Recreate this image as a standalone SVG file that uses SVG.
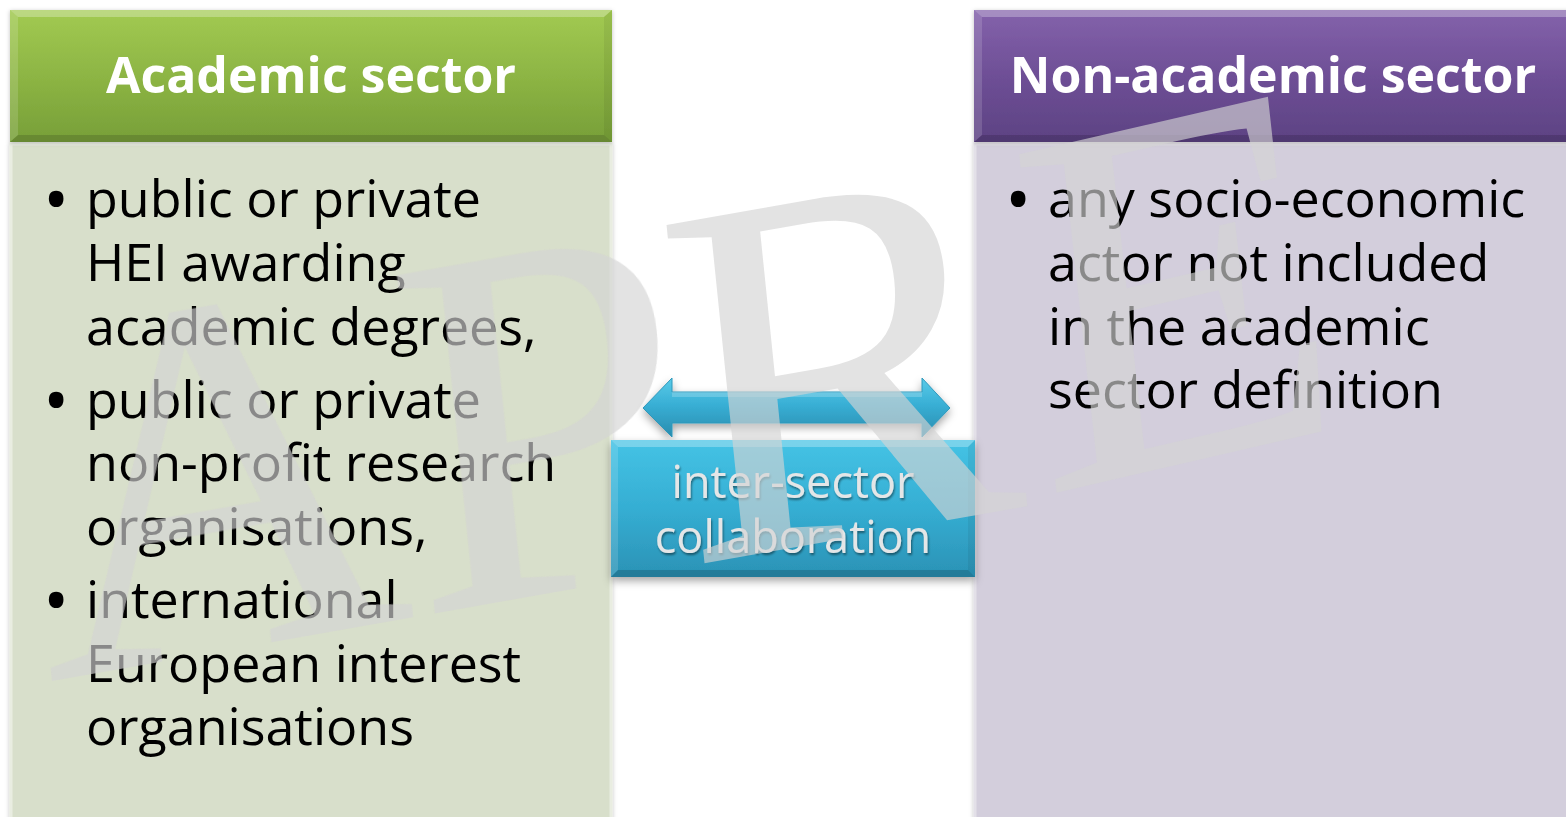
<svg xmlns="http://www.w3.org/2000/svg" width="1566" height="817" viewBox="0 0 1566 817">
<defs>
<linearGradient id="gGreen" x1="0" y1="0" x2="0" y2="1">
<stop offset="0" stop-color="#a2ca52"/><stop offset="0.5" stop-color="#8db544"/><stop offset="1" stop-color="#779f38"/>
</linearGradient>
<linearGradient id="gPurple" x1="0" y1="0" x2="0" y2="1">
<stop offset="0" stop-color="#8462ab"/><stop offset="0.5" stop-color="#6e4f96"/><stop offset="1" stop-color="#5d4283"/>
</linearGradient>
<linearGradient id="gTeal" x1="0" y1="0" x2="0" y2="1">
<stop offset="0" stop-color="#45c3e5"/><stop offset="0.5" stop-color="#35aed3"/><stop offset="1" stop-color="#2b92b5"/>
</linearGradient>
<linearGradient id="gArrow" x1="0" y1="0" x2="0" y2="1">
<stop offset="0" stop-color="#5acbe8"/><stop offset="0.45" stop-color="#38afd5"/><stop offset="1" stop-color="#2a8cae"/>
</linearGradient>
<filter id="shadow" x="-10%" y="-10%" width="120%" height="130%">
<feDropShadow dx="0" dy="4" stdDeviation="4" flood-color="#000" flood-opacity="0.35"/>
</filter>
<filter id="soft" x="-5%" y="-5%" width="110%" height="110%">
<feDropShadow dx="0" dy="1" stdDeviation="2" flood-color="#000" flood-opacity="0.25"/>
</filter>
<filter id="txtShadow" x="-5%" y="-20%" width="110%" height="140%">
<feDropShadow dx="1" dy="2" stdDeviation="1" flood-color="#000" flood-opacity="0.45"/>
</filter>
</defs>
<style>
.body{font-family:"Open Sans","Liberation Sans",sans-serif;font-size:52px;fill:#000}
.bul{font-family:"Open Sans","Liberation Sans",sans-serif;font-size:70px;fill:#000}
.head{font-family:"Open Sans","Liberation Sans",sans-serif;font-size:50px;font-weight:bold;fill:#fff;text-anchor:middle}
.collab{font-family:"Open Sans","Liberation Sans",sans-serif;font-size:45px;fill:#e4e6e7;text-anchor:middle}
.hl{fill:#fff;opacity:0.28}
.hl2{fill:#fff;opacity:0.14}
.dk{fill:#000;opacity:0.06}
.dk2{fill:#000;opacity:0.14}
.wm{font-family:"Liberation Serif","Times New Roman",serif;font-size:520px;fill:#d4d4d4}
</style>
<rect x="0" y="0" width="1566" height="817" fill="#fff"/>

<g id="academic-body">
<rect x="11" y="144" width="600" height="680" fill="#d8dfcb" stroke="#e9ede1" stroke-width="3" filter="url(#soft)"/>
<text class="bul" x="43" y="224">•</text>
<text class="body" x="86" y="217">public or private</text>
<text class="body" x="86" y="281">HEI awarding</text>
<text class="body" x="86" y="345">academic degrees,</text>
<text class="bul" x="43" y="425">•</text>
<text class="body" x="86" y="418">public or private</text>
<text class="body" x="86" y="481">non-profit research</text>
<text class="body" x="86" y="545">organisations,</text>
<text class="bul" x="43" y="625">•</text>
<text class="body" x="86" y="618">international</text>
<text class="body" x="86" y="682">European interest</text>
<text class="body" x="86" y="745">organisations</text>
</g>

<g id="nonacademic-body">
<rect x="975" y="144" width="600" height="680" fill="#d3cedc" stroke="#e3e0e8" stroke-width="3" filter="url(#soft)"/>
<text class="bul" x="1005" y="224">•</text>
<text class="body" x="1048" y="217">any socio-economic</text>
<text class="body" x="1048" y="281">actor not included</text>
<text class="body" x="1048" y="345">in the academic</text>
<text class="body" x="1048" y="408">sector definition</text>
</g>

<g id="academic-header" filter="url(#soft)">
<rect x="10" y="10" width="602" height="132" fill="url(#gGreen)"/>
<polygon class="hl" points="10,10 612,10 604,17 18,17"/>
<polygon class="hl2" points="10,10 18,17 18,135 10,142"/>
<polygon class="dk" points="612,10 612,142 604,135 604,17"/>
<polygon class="dk2" points="10,142 18,135 604,135 612,142"/>
<text class="head" x="311" y="93">Academic sector</text>
</g>

<g id="nonacademic-header" filter="url(#soft)">
<rect x="974" y="10" width="600" height="132" fill="url(#gPurple)"/>
<polygon class="hl" points="974,10 1574,10 1566,17 982,17"/>
<polygon class="hl2" points="974,10 982,17 982,135 974,142"/>
<polygon class="dk2" points="974,142 982,135 1566,135 1574,142"/>
<text class="head" x="1273" y="93">Non-academic sector</text>
</g>

<g id="connectors">
<polygon points="643,408 672,378 672,392 922,392 922,378 950,408 922,437 922,423 672,423 672,437" fill="url(#gArrow)" stroke="#2f98bb" stroke-width="1" filter="url(#shadow)"/>
<polygon points="672,392 922,392 922,397 672,397" fill="#fff" opacity="0.2"/>
</g>

<g id="collaboration">
<rect x="611" y="440" width="364" height="137" fill="url(#gTeal)" filter="url(#shadow)"/>
<polygon class="hl" points="611,440 975,440 968,447 618,447"/>
<polygon class="hl2" points="611,440 618,447 618,570 611,577"/>
<polygon class="dk" points="975,440 975,577 968,570 968,447"/>
<polygon points="611,577 618,570 968,570 975,577" fill="#1d6782" opacity="0.55"/>
<text class="collab" x="793" y="498" filter="url(#txtShadow)">inter-sector</text>
<text class="collab" x="793" y="553" filter="url(#txtShadow)">collaboration</text>
</g>

<g id="watermark" opacity="0.65">
<text class="wm" transform="matrix(0.985 -0.174 0.102 0.995 47 682)" x="0" y="0">AP</text>
<text class="wm" transform="matrix(0.985 -0.174 0.102 0.995 32 682)" x="664.5" y="0">R</text>
<text class="wm" transform="matrix(0.974 -0.225 0.11 0.994 1042 496)" x="0" y="0">E</text>
</g>
</svg>
